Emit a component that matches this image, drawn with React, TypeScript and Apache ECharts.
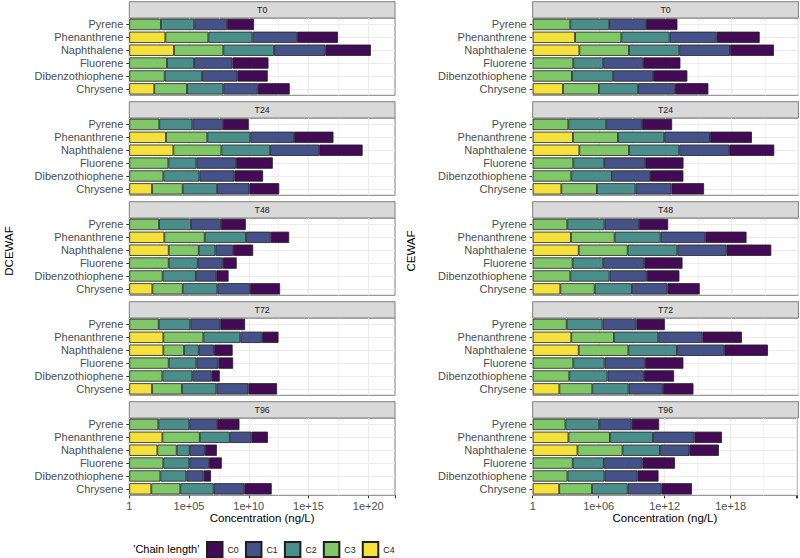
import React, { useEffect, useRef } from "react";
import * as echarts from "echarts";

// ---------- categories / labels ----------
const CATEGORIES = ["Chrysene", "Dibenzothiophene", "Fluorene", "Naphthalene", "Phenanthrene", "Pyrene"];
const TIMES = ["T0", "T24", "T48", "T72", "T96"];
const CHAINS = ["C0", "C1", "C2", "C3", "C4"];
const CHAIN_COLORS = ["#430A56", "#45528A", "#4A8E8B", "#80C767", "#F4E13C"];
const TREATMENTS = ["DCEWAF", "CEWAF"];
const LEFT_TICKS = [0, 5, 10, 15, 20]; // log10(ng/L)
const RIGHT_TICKS = [0, 6, 12, 18]; // log10(ng/L)
const X_TITLE = "Concentration (ng/L)";
const LEGEND_TITLE = "'Chain length'";

// ---------- data: log10 concentration contributed by each chain length ----------
// rows: C0, C1, C2, C3, C4 ; columns follow CATEGORIES
const DCEWAF_T0 = [
  [2.68, 2.54, 3.02, 3.80, 3.41, 2.26],
  [2.88, 2.96, 3.21, 4.30, 3.74, 2.74],
  [3.04, 3.13, 2.26, 4.25, 3.69, 2.79],
  [2.74, 2.96, 3.16, 4.13, 3.60, 2.65],
  [2.09, null, null, 3.74, 3.02, null],
];
const DCEWAF_T24 = [
  [2.49, 2.40, 3.07, 3.63, 3.30, 2.15],
  [2.71, 2.93, 3.32, 4.11, 3.66, 2.57],
  [2.88, 3.02, 2.35, 4.08, 3.60, 2.77],
  [2.57, 2.85, 3.27, 4.02, 3.46, 2.51],
  [1.90, null, null, 3.69, 3.07, null],
];
const DCEWAF_T48 = [
  [2.51, 1.03, 1.17, 1.68, 1.54, 2.09],
  [2.74, 1.70, 2.09, 1.48, 2.07, 2.49],
  [2.90, 2.79, 2.43, 1.40, 3.46, 2.68],
  [2.54, 2.79, 3.30, 2.51, 3.38, 2.49],
  [1.93, null, null, 3.30, 2.93, null],
];
const DCEWAF_T72 = [
  [2.40, 0.67, 1.23, 1.56, 1.37, 2.07],
  [2.68, 1.62, 1.84, 1.28, 1.82, 2.51],
  [2.88, 2.51, 2.32, 1.23, 3.10, 2.65],
  [2.51, 2.77, 3.30, 1.73, 3.35, 2.46],
  [1.90, null, null, 2.85, 2.85, null],
];
const DCEWAF_T96 = [
  [2.29, 0.61, 1.06, 1.01, 1.37, 1.87],
  [2.57, 1.45, 1.65, 1.26, 1.82, 2.32],
  [2.79, 2.18, 2.18, 1.09, 2.51, 2.60],
  [2.43, 2.60, 2.85, 1.62, 3.13, 2.43],
  [1.84, null, null, 2.35, 2.77, null],
];
const CEWAF_T0 = [
  [3.01, 3.10, 3.37, 3.98, 3.89, 2.83],
  [3.34, 3.61, 3.61, 4.58, 4.25, 3.34],
  [3.55, 3.73, 2.71, 4.55, 4.37, 3.52],
  [3.25, 3.55, 3.67, 4.49, 4.19, 3.40],
  [2.74, null, null, 4.22, 3.83, null],
];
const CEWAF_T24 = [
  [2.95, 3.01, 3.46, 4.07, 3.80, 2.74],
  [3.25, 3.46, 3.71, 4.52, 4.13, 3.22],
  [3.49, 3.67, 2.80, 4.55, 4.19, 3.43],
  [3.22, 3.49, 3.67, 4.49, 4.07, 3.22],
  [2.59, null, null, 4.22, 3.64, null],
];
const CEWAF_T48 = [
  [2.92, 2.95, 3.46, 4.04, 3.73, 2.65],
  [3.22, 3.37, 3.71, 4.46, 4.04, 3.10],
  [3.37, 3.55, 2.77, 4.49, 4.16, 3.37],
  [3.10, 3.40, 3.61, 4.43, 3.95, 3.13],
  [2.50, null, null, 4.16, 3.46, null],
];
const CEWAF_T72 = [
  [2.77, 2.74, 3.46, 3.95, 3.55, 2.56],
  [3.10, 3.28, 3.67, 4.28, 4.01, 3.07],
  [3.28, 3.46, 2.83, 4.40, 4.01, 3.25],
  [2.98, 3.31, 3.67, 4.49, 3.86, 3.07],
  [2.41, null, null, 4.16, 3.49, null],
];
const CEWAF_T96 = [
  [2.77, 1.90, 2.95, 2.68, 2.50, 2.50],
  [3.07, 3.01, 3.52, 2.68, 3.77, 2.95],
  [3.25, 3.37, 2.83, 3.40, 3.92, 3.07],
  [2.98, 3.16, 3.64, 4.10, 3.77, 2.98],
  [2.41, null, null, 4.07, 3.25, null],
];

const PANELS = [
  [DCEWAF_T0, DCEWAF_T24, DCEWAF_T48, DCEWAF_T72, DCEWAF_T96],
  [CEWAF_T0, CEWAF_T24, CEWAF_T48, CEWAF_T72, CEWAF_T96],
];
const TICKS = [LEFT_TICKS, RIGHT_TICKS];

// ---------- layout ----------
const FONT = "'Liberation Sans', Arial, Helvetica, sans-serif";
const PANEL_LEFT = [129.3, 532.7];
const PANEL_W = 265.7;
const PANEL_TOP = 18;
const PANEL_STEP = 100;
const PANEL_H = 77.3;
const STRIP_H = 16.3;
const BORDER = "#7f7f7f";

function tickLabel(v: number, list: number[]) {
  if (!list.includes(v)) return "";
  if (v === 0) return "1";
  return "1e+" + String(v).padStart(2, "0");
}

function buildOption() {
  const grid: any[] = [];
  const xAxis: any[] = [];
  const yAxis: any[] = [];
  const series: any[] = [];
  const graphic: any[] = [];

  TREATMENTS.forEach((treat, col) => {
    const panels = PANELS[col];
    const ticks = TICKS[col];
    const step = ticks[1] - ticks[0];
    const totals: number[] = [];
    panels.forEach((p) =>
      CATEGORIES.forEach((_, ci) => totals.push(p.reduce((s, r) => s + (r[ci] ?? 0), 0)))
    );
    const xMax = Math.max(...totals) * 1.1;

    const majors: number[] = [];
    for (let v = 0; v <= xMax; v += step) majors.push(v);
    const minors: number[] = [];
    for (let v = step / 2; v < xMax; v += step) minors.push(v);

    panels.forEach((panel, row) => {
      const k = col * TIMES.length + row;
      const top = PANEL_TOP + row * PANEL_STEP;
      const isBottom = row === TIMES.length - 1;
      grid.push({
        left: PANEL_LEFT[col],
        top,
        width: PANEL_W,
        height: PANEL_H,
        show: true,
        borderColor: BORDER,
        borderWidth: 1,
        backgroundColor: "#ffffff",
        containLabel: false,
      });
      xAxis.push({
        type: "value",
        gridIndex: k,
        min: 0,
        max: xMax,
        interval: step,
        axisLine: { show: false },
        splitLine: { show: false },
        axisTick: { show: isBottom, length: 3, lineStyle: { color: "#333333" } },
        axisLabel: {
          show: isBottom,
          fontSize: 11,
          color: "#4D4D4D",
          margin: 5,
          fontFamily: FONT,
          formatter: (v: number) => tickLabel(v, ticks),
        },
        name: isBottom ? X_TITLE : "",
        nameLocation: "middle",
        nameGap: 16,
        nameTextStyle: { fontSize: 11.5, color: "#000000", fontFamily: FONT },
      });
      yAxis.push({
        type: "category",
        gridIndex: k,
        data: CATEGORIES,
        axisLine: { show: false },
        axisTick: { show: true, alignWithLabel: true, interval: 0, length: 3, lineStyle: { color: "#333333" } },
        axisLabel: { interval: 0, fontSize: 11, color: "#4D4D4D", margin: 6, fontFamily: FONT },
        splitLine: { show: false },
      });

      // background grid lines (drawn beneath the bars)
      series.push({
        type: "line",
        name: "grid-lines",
        xAxisIndex: k,
        yAxisIndex: k,
        data: [],
        silent: true,
        markLine: {
          silent: true,
          z: 1,
          symbol: "none",
          label: { show: false },
          emphasis: { disabled: true },
          data: [
            ...minors.map((v) => ({ xAxis: v, lineStyle: { color: "#F3F3F3", width: 1, type: "solid" } })),
            ...majors.map((v) => ({ xAxis: v, lineStyle: { color: "#EBEBEB", width: 1, type: "solid" } })),
            ...CATEGORIES.map((c) => ({ yAxis: c, lineStyle: { color: "#EBEBEB", width: 1, type: "solid" } })),
          ],
        },
      });

      // stacked bars: C4 first (leftmost), C0 last
      for (let ci = CHAINS.length - 1; ci >= 0; ci--) {
        series.push({
          type: "bar",
          name: CHAINS[ci],
          xAxisIndex: k,
          yAxisIndex: k,
          stack: "s" + k,
          barWidth: 11.3,
          data: panel[ci],
          silent: true,
          itemStyle: { color: CHAIN_COLORS[ci], borderColor: "#1f1f1f", borderWidth: 0.8 },
          emphasis: { disabled: true },
        });
      }

      // facet strip
      graphic.push({
        type: "rect",
        shape: { x: PANEL_LEFT[col], y: top - STRIP_H, width: PANEL_W, height: STRIP_H },
        style: { fill: "#D9D9D9", stroke: BORDER, lineWidth: 1 },
        silent: true,
      });
      graphic.push({
        type: "text",
        x: PANEL_LEFT[col] + PANEL_W / 2,
        y: top - STRIP_H / 2,
        style: {
          text: TIMES[row],
          fill: "#1A1A1A",
          fontSize: 8.8,
          fontFamily: FONT,
          align: "center",
          verticalAlign: "middle",
        },
        silent: true,
      });
    });

    // treatment (y-axis) title
    graphic.push({
      type: "text",
      x: col === 0 ? 9 : 411,
      y: 251,
      rotation: Math.PI / 2,
      style: {
        text: treat,
        fill: "#000000",
        fontSize: 11.5,
        fontFamily: FONT,
        align: "center",
        verticalAlign: "middle",
      },
      silent: true,
    });
  });

  graphic.push({
    type: "text",
    x: 133.3,
    y: 548.5,
    style: {
      text: LEGEND_TITLE,
      fill: "#000000",
      fontSize: 11,
      fontFamily: FONT,
      align: "left",
      verticalAlign: "middle",
    },
    silent: true,
  });

  return {
    animation: false,
    backgroundColor: "#ffffff",
    textStyle: { fontFamily: FONT },
    grid,
    xAxis,
    yAxis,
    series,
    graphic,
    legend: {
      data: CHAINS,
      left: 206,
      top: 541,
      padding: 0,
      orient: "horizontal",
      icon: "rect",
      itemWidth: 15.5,
      itemHeight: 15,
      itemGap: 6.2,
      selectedMode: false,
      textStyle: { fontSize: 8.8, color: "#1A1A1A", fontFamily: FONT },
    },
  };
}

export default function App() {
  const ref = useRef<HTMLDivElement>(null);
  useEffect(() => {
    if (!ref.current) return;
    const chart = echarts.init(ref.current, undefined, { renderer: "svg" });
    chart.setOption(buildOption() as any);
    return () => chart.dispose();
  }, []);
  return (
    <div
      ref={ref}
      style={{ position: "absolute", left: 0, top: 0, width: 800, height: 558, background: "#fff" }}
    />
  );
}
